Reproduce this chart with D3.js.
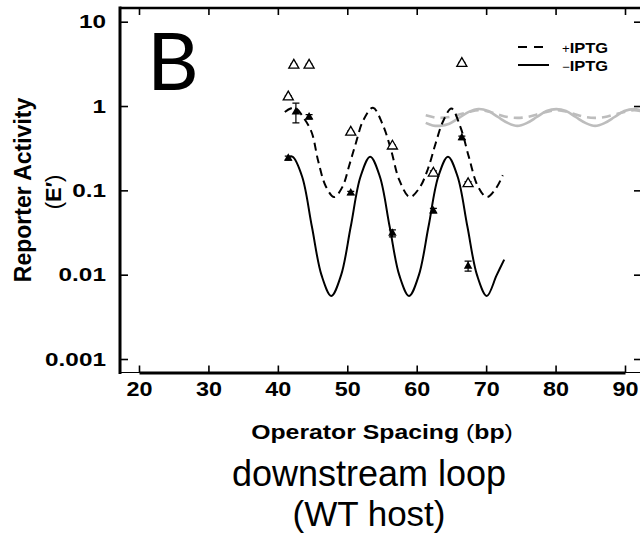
<!DOCTYPE html>
<html>
<head>
<meta charset="utf-8">
<script src="https://cdn.jsdelivr.net/npm/d3@7"></script>
<style>
  body { margin: 0; background: #fff; }
  svg { display: block; font-family: "Liberation Sans", Arial, sans-serif; }
</style>
</head>
<body>
<div id="chart"></div>
<script>
// axis ticks
const xTicks = [20, 30, 40, 50, 60, 70, 80, 90];
const yTicks = [0.001, 0.01, 0.1, 1, 10];
const yTickLabels = ["0.001", "0.01", "0.1", "1", "10"];

// measured reporter activity, -IPTG (filled triangles)
const minusSpacing = [41.5, 42.6, 44.5, 50.5, 56.5, 62.4, 66.5, 67.4];
const minusValue = [0.24, 0.85, 0.74, 0.093, 0.031, 0.057, 0.42, 0.0126];
const minusLow = [0.228, 0.63, 0.70, 0.089, 0.028, 0.054, 0.40, 0.011];
const minusHigh = [0.255, 1.08, 0.79, 0.097, 0.034, 0.061, 0.44, 0.0145];

// measured reporter activity, +IPTG (open triangles)
const plusSpacing = [41.5, 42.3, 44.5, 50.5, 56.5, 62.4, 66.5, 67.4];
const plusValue = [1.28, 3.05, 3.05, 0.49, 0.335, 0.16, 3.2, 0.12];
const plusLow = [1.24, 2.95, 2.95, 0.475, 0.325, 0.15, 3.1, 0.113];
const plusHigh = [1.32, 3.15, 3.15, 0.505, 0.345, 0.17, 3.3, 0.127];

// fitted curves
const fitMinusSpacing = [41.5, 42.1, 43.5, 44.9, 46.3, 47.7, 49.1, 50.5, 51.9, 53.3, 54.7, 56.1,
  57.5, 58.9, 60.3, 61.7, 63.1, 64.5, 65.9, 67.3, 68.7, 70.1, 71.5, 72.6];
const fitMinus = [0.245, 0.251, 0.145, 0.0372, 0.0098, 0.0056, 0.0098, 0.0372, 0.145, 0.251, 0.145, 0.0372,
  0.0098, 0.0056, 0.0098, 0.0372, 0.145, 0.251, 0.145, 0.0372, 0.0098, 0.0056, 0.0098, 0.0151];

const fitPlusSpacing = [41.0, 42.4, 43.8, 44.9, 45.8, 46.9, 48.1, 49.3, 50.3, 51.2, 52.3, 53.7, 55.1,
  56.3, 57.5, 59.0, 60.4, 61.6, 62.7, 63.8, 65.0, 66.3, 67.5, 68.8, 70.1, 71.4, 72.4];
const fitPlus = [0.851, 0.955, 0.708, 0.479, 0.224, 0.112, 0.0832, 0.110, 0.200, 0.355, 0.676, 0.955, 0.603,
  0.302, 0.132, 0.0832, 0.107, 0.178, 0.355, 0.661, 0.933, 0.562, 0.251, 0.112, 0.0832, 0.105, 0.151];

// wild-type reference curves (grey)
const wtSpacing = [61.3, 62.3, 63.3, 64.7, 66.1, 67.5, 68.9, 70.3, 71.7, 73.1, 74.5, 75.9, 77.3, 78.7,
  80.1, 81.5, 82.9, 84.3, 85.7, 87.1, 88.5, 89.9, 91.3, 92.7];
const wtMinus = [0.631, 0.589, 0.582, 0.617, 0.724, 0.851, 0.92, 0.871, 0.741, 0.631, 0.582, 0.631, 0.741, 0.871,
  0.92, 0.871, 0.741, 0.631, 0.582, 0.631, 0.741, 0.871, 0.92, 0.871];
const wtPlus = [0.776, 0.74, 0.724, 0.74, 0.794, 0.85, 0.891, 0.86, 0.794, 0.74, 0.724, 0.74, 0.794, 0.85,
  0.891, 0.86, 0.794, 0.74, 0.724, 0.74, 0.794, 0.85, 0.891, 0.86];

const W = 640, H = 534;
const frameL = 120, frameT = 8, frameR = 641, frameB = 372.5;

const svg = d3.select("#chart").append("svg").attr("width", W).attr("height", H);

const x = d3.scaleLinear().domain([20, 90]).range([139, 625]);
const y = d3.scaleLog().domain([0.001, 10]).range([359, 21.7]);

svg.append("defs").append("clipPath").attr("id", "clip")
  .append("rect").attr("x", frameL).attr("y", frameT)
  .attr("width", frameR - frameL).attr("height", frameB - frameT);

// thin frame
svg.append("rect")
  .attr("x", frameL).attr("y", frameT)
  .attr("width", frameR - frameL).attr("height", frameB - frameT)
  .attr("fill", "none").attr("stroke", "#000").attr("stroke-width", 1);

// left axis
const yAxisG = svg.append("g")
  .attr("transform", "translate(" + frameL + ",0)")
  .call(d3.axisLeft(y).tickValues(yTicks).tickFormat((d, i) => yTickLabels[i])
    .tickSizeInner(-8).tickSizeOuter(0).tickPadding(11));
yAxisG.select(".domain").remove();
yAxisG.selectAll("line").attr("stroke-width", 1.6);
yAxisG.selectAll("text")
  .attr("font-size", 19).attr("font-weight", "bold").attr("fill", "#000")
  .attr("transform", "scale(1.28,1)");

// right axis (ticks only)
const rAxisG = svg.append("g")
  .attr("transform", "translate(" + frameR + ",0)")
  .call(d3.axisRight(y).tickValues(yTicks).tickFormat("").tickSizeInner(-7).tickSizeOuter(0));
rAxisG.select(".domain").remove();
rAxisG.selectAll("line").attr("stroke-width", 1.6);

// top axis (ticks only)
const tAxisG = svg.append("g")
  .attr("transform", "translate(0," + frameT + ")")
  .call(d3.axisTop(x).tickValues(xTicks).tickFormat("").tickSizeInner(-7).tickSizeOuter(0));
tAxisG.select(".domain").remove();
tAxisG.selectAll("line").attr("stroke-width", 1.6);

// bottom axis
const xAxisG = svg.append("g")
  .attr("transform", "translate(0," + frameB + ")")
  .call(d3.axisBottom(x).tickValues(xTicks).tickSizeInner(-7).tickSizeOuter(0).tickPadding(10));
xAxisG.select(".domain").attr("stroke-width", 3);
xAxisG.selectAll("line").attr("stroke-width", 1.6);
xAxisG.selectAll("text")
  .attr("font-size", 19.5).attr("font-weight", "bold").attr("fill", "#000")
  .attr("transform", "scale(1.2,1)");

// heavy left and top frame lines
svg.append("line").attr("x1", frameL).attr("x2", frameL).attr("y1", frameT - 1.5).attr("y2", frameB + 1.5)
  .attr("stroke", "#000").attr("stroke-width", 3);
svg.append("line").attr("x1", frameL).attr("x2", frameR).attr("y1", frameT).attr("y2", frameT)
  .attr("stroke", "#000").attr("stroke-width", 2.6);

// curves
const plot = svg.append("g").attr("clip-path", "url(#clip)");
const line = d3.line()
  .x(d => x(d[0]))
  .y(d => y(d[1]))
  .curve(d3.curveCatmullRom.alpha(0.5));

plot.append("path")
  .datum(d3.zip(wtSpacing, wtPlus))
  .attr("d", line).attr("fill", "none")
  .attr("stroke", "#bdbdbd").attr("stroke-width", 2.6).attr("stroke-dasharray", "9,6");
plot.append("path")
  .datum(d3.zip(wtSpacing, wtMinus))
  .attr("d", line).attr("fill", "none")
  .attr("stroke", "#bdbdbd").attr("stroke-width", 2.6);

plot.append("path")
  .datum(d3.zip(fitPlusSpacing, fitPlus))
  .attr("d", line).attr("fill", "none")
  .attr("stroke", "#000").attr("stroke-width", 2).attr("stroke-dasharray", "8,5");
plot.append("path")
  .datum(d3.zip(fitMinusSpacing, fitMinus))
  .attr("d", line).attr("fill", "none")
  .attr("stroke", "#000").attr("stroke-width", 2);

// error bars
function errorBars(xs, lo, hi) {
  const g = plot.append("g").attr("stroke", "#000").attr("stroke-width", 1.2);
  xs.forEach((s, i) => {
    const cx = x(s);
    g.append("line").attr("x1", cx).attr("x2", cx).attr("y1", y(lo[i])).attr("y2", y(hi[i]));
    g.append("line").attr("x1", cx - 3.5).attr("x2", cx + 3.5).attr("y1", y(lo[i])).attr("y2", y(lo[i]));
    g.append("line").attr("x1", cx - 3.5).attr("x2", cx + 3.5).attr("y1", y(hi[i])).attr("y2", y(hi[i]));
  });
}
errorBars(plusSpacing, plusLow, plusHigh);
errorBars(minusSpacing, minusLow, minusHigh);

// markers
plot.selectAll(".open")
  .data(d3.zip(plusSpacing, plusValue))
  .join("path")
  .attr("class", "open")
  .attr("d", d3.symbol().type(d3.symbolTriangle).size(44))
  .attr("transform", d => "translate(" + x(d[0]) + "," + y(d[1]) + ")")
  .attr("fill", "#fff").attr("stroke", "#000").attr("stroke-width", 1.3);

plot.selectAll(".filled")
  .data(d3.zip(minusSpacing, minusValue))
  .join("path")
  .attr("class", "filled")
  .attr("d", d3.symbol().type(d3.symbolTriangle).size(32))
  .attr("transform", d => "translate(" + x(d[0]) + "," + y(d[1]) + ")")
  .attr("fill", "#000");

// legend
const legend = svg.append("g");
legend.append("line").attr("x1", 518).attr("x2", 545).attr("y1", 47).attr("y2", 47)
  .attr("stroke", "#000").attr("stroke-width", 2).attr("stroke-dasharray", "9,7");
legend.append("line").attr("x1", 518).attr("x2", 549).attr("y1", 65).attr("y2", 65)
  .attr("stroke", "#000").attr("stroke-width", 2);
[["+", 52.5], ["\u2212", 70.5]].forEach(([sign, by]) => {
  const t = legend.append("text").attr("transform", "translate(562," + by + ") scale(1.1,1)")
    .attr("font-size", 15).attr("fill", "#000");
  t.append("tspan").attr("font-size", 12).text(sign);
  t.append("tspan").attr("font-weight", "bold").text("IPTG");
});

// panel letter
svg.append("text")
  .attr("x", 147).attr("y", 90)
  .attr("font-family", "Lato, 'Liberation Sans', sans-serif")
  .attr("font-size", 80).attr("fill", "#000")
  .text("B");

// y axis title
const yTitle = svg.append("g").attr("transform", "translate(31,190) rotate(-90)");
yTitle.append("text").attr("text-anchor", "middle")
  .attr("font-size", 23).attr("font-weight", "bold").attr("fill", "#000")
  .text("Reporter Activity");
const eText = svg.append("g").attr("transform", "translate(61,192) rotate(-90)")
  .append("text").attr("text-anchor", "middle").attr("font-size", 22).attr("fill", "#000");
eText.append("tspan").text("(");
eText.append("tspan").attr("font-weight", "bold").text("E\u2032");
eText.append("tspan").text(")");

// x axis title
const xTitle = svg.append("text")
  .attr("transform", "translate(382,439) scale(1.24,1)")
  .attr("text-anchor", "middle").attr("font-size", 20).attr("fill", "#000");
xTitle.append("tspan").attr("font-weight", "bold").text("Operator Spacing ");
xTitle.append("tspan").text("(");
xTitle.append("tspan").attr("font-weight", "bold").text("bp");
xTitle.append("tspan").text(")");

// caption
svg.append("text").attr("x", 369).attr("y", 486).attr("text-anchor", "middle")
  .attr("font-size", 36).attr("fill", "#000").text("downstream loop");
svg.append("text").attr("x", 369).attr("y", 526).attr("text-anchor", "middle")
  .attr("font-size", 35).attr("fill", "#000").text("(WT host)");
</script>
</body>
</html>
